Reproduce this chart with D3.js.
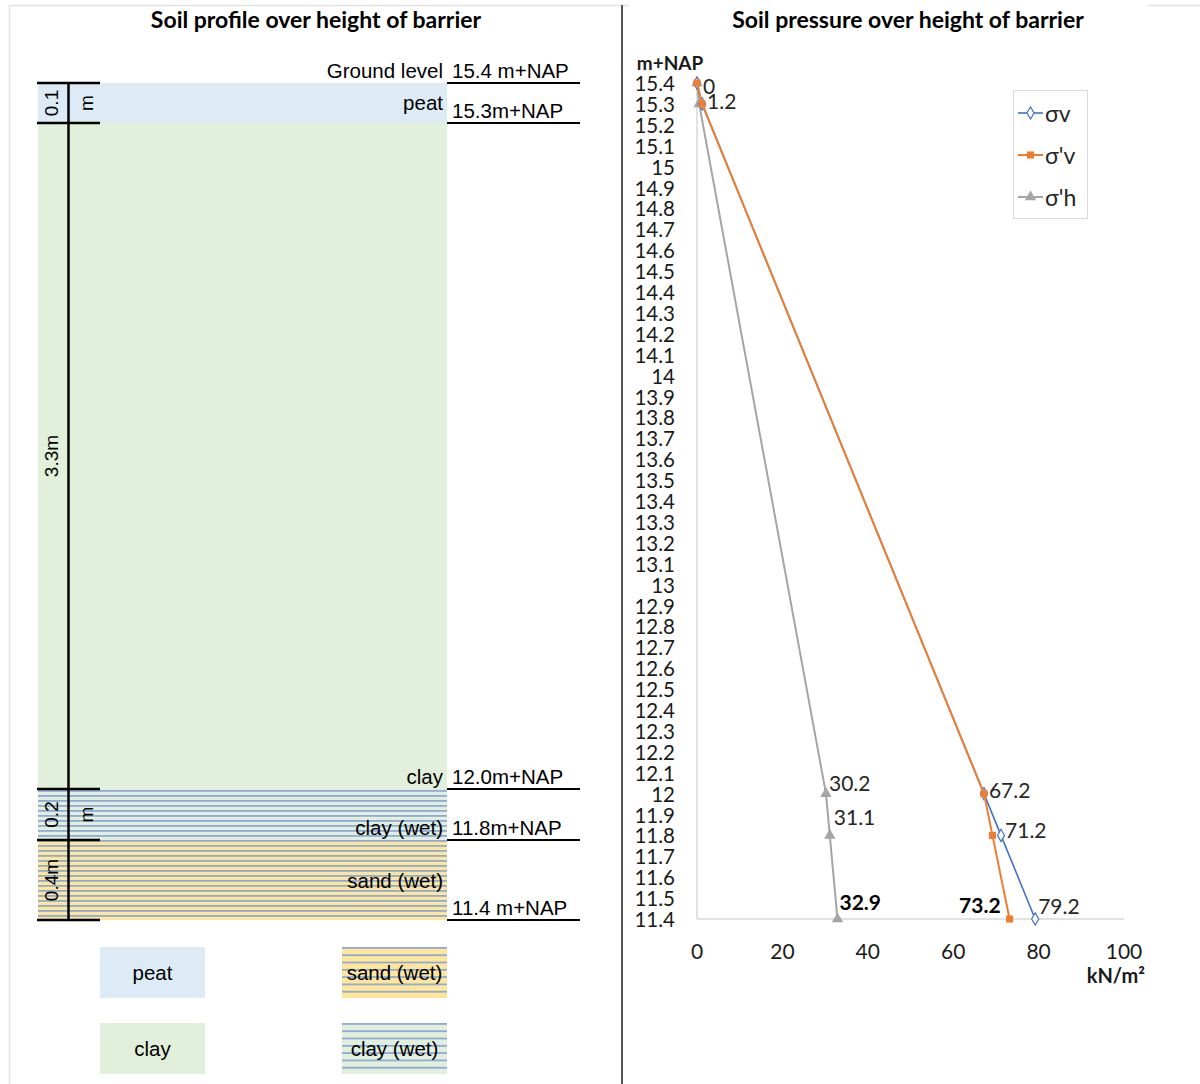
<!DOCTYPE html>
<html>
<head>
<meta charset="utf-8">
<script src="https://cdn.jsdelivr.net/npm/d3@7"></script>
<style>
  body { margin: 0; background: #fff; }
  svg { display: block; }
</style>
</head>
<body>
<svg id="chart" width="1200" height="1084"></svg>
<script>
// ---- Soil profile: layers of the barrier ----
const layerNames = ['peat', 'clay', 'clay (wet)', 'sand (wet)'];
const layerTops = [15.4, 15.3, 12.0, 11.8];
const layerBottoms = [15.3, 12.0, 11.8, 11.4];
const layerThickness = ['0.1 m', '3.3m', '0.2 m', '0.4m'];

// Boundary levels (m+NAP) and their annotations
const levelValues = [15.4, 15.3, 12.0, 11.8, 11.4];
const levelTexts = ['15.4 m+NAP', '15.3m+NAP', '12.0m+NAP', '11.8m+NAP', '11.4 m+NAP'];

// ---- Soil pressure over depth (kN/m²) ----
const depthLevels = [15.4, 15.3, 12.0, 11.8, 11.4];
const sigmaV = [0, 1.2, 67.2, 71.2, 79.2];
const sigmaVEff = [0, 1.2, 67.2, 69.2, 73.2];
const sigmaHEff = [0, 0.5, 30.2, 31.1, 32.9];
const seriesNames = ['σv', "σ'v", "σ'h"];

const yTickValues = [15.4, 15.3, 15.2, 15.1, 15.0, 14.9, 14.8, 14.7, 14.6, 14.5, 14.4,
  14.3, 14.2, 14.1, 14.0, 13.9, 13.8, 13.7, 13.6, 13.5, 13.4, 13.3, 13.2, 13.1, 13.0,
  12.9, 12.8, 12.7, 12.6, 12.5, 12.4, 12.3, 12.2, 12.1, 12.0, 11.9, 11.8, 11.7, 11.6,
  11.5, 11.4];
const xTickValues = [0, 20, 40, 60, 80, 100];

// ---- styling ----
const ARIAL = "'Liberation Sans', Arial, sans-serif";
const CALIBRI = "Lato, 'Open Sans', 'Noto Sans', sans-serif";
const layerFill = {
  'peat': '#DDEBF7',
  'clay': '#E2EFDA',
  'clay (wet)': 'url(#wetClay)',
  'sand (wet)': 'url(#wetSand)'
};
const legendFill = {
  'peat': '#DDEBF7',
  'clay': '#E2EFDA',
  'clay (wet)': 'url(#wetClayLegend)',
  'sand (wet)': 'url(#wetSandLegend)'
};
const seriesColors = ['#4472C4', '#ED7D31', '#A5A5A5'];
const stripeColor = '#8EA9DB';

const svg = d3.select('#chart');

// striped fills for the wet layers
const defs = svg.append('defs');
function stripes(id, bg, period) {
  const p = defs.append('pattern')
    .attr('id', id).attr('patternUnits', 'userSpaceOnUse')
    .attr('width', 10).attr('height', period);
  p.append('rect').attr('width', 10).attr('height', period).attr('fill', bg);
  p.append('rect').attr('y', 0).attr('width', 10).attr('height', 1.8).attr('fill', stripeColor);
}
stripes('wetClay', '#E2EFDA', 5);
stripes('wetSand', '#FFE699', 5);
stripes('wetClayLegend', '#E2EFDA', 7.3);
stripes('wetSandLegend', '#FFE699', 7.3);

// ---------------- Panel frames ----------------
svg.append('path')
  .attr('d', 'M9.5,1084 V5.5 H629')
  .attr('fill', 'none').attr('stroke', '#E3E3E3').attr('stroke-width', 1.5);
svg.append('line')
  .attr('x1', 622).attr('x2', 622).attr('y1', 5).attr('y2', 1084)
  .attr('stroke', '#555').attr('stroke-width', 2);
svg.append('line')
  .attr('x1', 1148).attr('x2', 1200).attr('y1', 5.5).attr('y2', 5.5)
  .attr('stroke', '#E3E3E3').attr('stroke-width', 1.5);

// ---------------- Left: soil profile ----------------
const left = svg.append('g');
left.append('text')
  .attr('x', 316).attr('y', 28).attr('text-anchor', 'middle')
  .attr('font-family', CALIBRI).attr('font-weight', 700).attr('font-size', 23)
  .attr('fill', '#000').text('Soil profile over height of barrier');

// schematic (not to scale) vertical placement of the boundaries
const yProfile = d3.scaleLinear()
  .domain(levelValues)
  .range([83, 123, 789, 840, 920]);

const layers = layerNames.map((name, i) => ({
  name, top: layerTops[i], bottom: layerBottoms[i], thick: layerThickness[i]
}));

left.selectAll('rect.layer').data(layers).join('rect')
  .attr('class', 'layer')
  .attr('x', 38).attr('width', 447 - 38)
  .attr('y', d => yProfile(d.top))
  .attr('height', d => yProfile(d.bottom) - yProfile(d.top))
  .attr('fill', d => layerFill[d.name]);

// boundary lines at the right with their level annotations
left.selectAll('line.level').data(levelValues).join('line')
  .attr('x1', 447).attr('x2', 580)
  .attr('y1', d => yProfile(d)).attr('y2', d => yProfile(d))
  .attr('stroke', '#000').attr('stroke-width', 2);
left.selectAll('text.level').data(levelValues).join('text')
  .attr('x', 452).attr('y', d => yProfile(d) - 5)
  .attr('font-family', ARIAL).attr('font-size', 20.5).attr('fill', '#000')
  .text((d, i) => levelTexts[i]);

// layer names, right-aligned against the level column
const nameOffset = { 'peat': -13, 'sand (wet)': -32 };
left.append('text')
  .attr('x', 443).attr('y', yProfile(levelValues[0]) - 5).attr('text-anchor', 'end')
  .attr('font-family', ARIAL).attr('font-size', 20.5).attr('fill', '#000')
  .text('Ground level');
left.selectAll('text.layer').data(layers).join('text')
  .attr('x', 443)
  .attr('y', d => yProfile(d.bottom) + (nameOffset[d.name] ?? -5))
  .attr('text-anchor', 'end')
  .attr('font-family', ARIAL).attr('font-size', 20.5).attr('fill', '#000')
  .text(d => d.name);

// thickness dimension line on the left
left.append('line')
  .attr('x1', 68.5).attr('x2', 68.5)
  .attr('y1', yProfile(levelValues[0])).attr('y2', yProfile(levelValues[levelValues.length - 1]) + 1)
  .attr('stroke', '#000').attr('stroke-width', 2.5);
left.selectAll('line.tick').data(levelValues).join('line')
  .attr('x1', 37).attr('x2', 100)
  .attr('y1', d => yProfile(d)).attr('y2', d => yProfile(d))
  .attr('stroke', '#000').attr('stroke-width', 2.5);

// rotated thickness labels; a unit after a space sits right of the dimension line
layers.forEach(d => {
  const cy = (yProfile(d.top) + yProfile(d.bottom)) / 2;
  const parts = d.thick.split(' ');
  const place = (txt, cx) => left.append('text')
    .attr('transform', `translate(${cx},${cy}) rotate(-90)`)
    .attr('text-anchor', 'middle').attr('dominant-baseline', 'central')
    .attr('font-family', ARIAL).attr('font-size', 19).attr('fill', '#000')
    .text(txt);
  place(parts[0], 51);
  if (parts[1]) place(parts[1], 86);
});

// legend of soil types
const legendItems = [
  { name: 'peat', x: 100, y: 947 },
  { name: 'clay', x: 100, y: 1023 },
  { name: 'sand (wet)', x: 342, y: 947 },
  { name: 'clay (wet)', x: 342, y: 1023 }
];
const lg = left.selectAll('g.soil-legend').data(legendItems).join('g')
  .attr('transform', d => `translate(${d.x},${d.y})`);
lg.append('rect').attr('width', 105).attr('height', 51)
  .attr('fill', d => legendFill[d.name]);
lg.append('text').attr('x', 52.5).attr('y', 25.5)
  .attr('text-anchor', 'middle').attr('dominant-baseline', 'central')
  .attr('font-family', ARIAL).attr('font-size', 20.5).attr('fill', '#000')
  .text(d => d.name);

// ---------------- Right: soil pressure ----------------
const right = svg.append('g');
right.append('text')
  .attr('x', 908).attr('y', 28).attr('text-anchor', 'middle')
  .attr('font-family', CALIBRI).attr('font-weight', 700).attr('font-size', 23)
  .attr('fill', '#000').text('Soil pressure over height of barrier');

const x = d3.scaleLinear().domain([0, 100]).range([697, 1124]);
const y = d3.scaleLinear().domain([11.4, 15.4]).range([919, 83]);

// axes lines
right.append('line')
  .attr('x1', x(0)).attr('x2', x(0)).attr('y1', y(15.4)).attr('y2', y(11.4))
  .attr('stroke', '#D9D9D9').attr('stroke-width', 1.5);
right.append('line')
  .attr('x1', x(0)).attr('x2', x(100)).attr('y1', y(11.4)).attr('y2', y(11.4))
  .attr('stroke', '#D9D9D9').attr('stroke-width', 1.5);

// y tick labels
right.append('g').selectAll('text').data(yTickValues).join('text')
  .attr('x', 675).attr('y', d => y(d))
  .attr('text-anchor', 'end').attr('dominant-baseline', 'central')
  .attr('font-family', CALIBRI).attr('font-size', 20.5).attr('fill', '#1a1a1a')
  .text(d => d3.format('~g')(d));

// x tick labels
right.append('g').selectAll('text').data(xTickValues).join('text')
  .attr('x', d => x(d)).attr('y', 950)
  .attr('text-anchor', 'middle').attr('dominant-baseline', 'central')
  .attr('font-family', CALIBRI).attr('font-size', 21).attr('fill', '#1a1a1a')
  .text(d => d);

// axis titles
right.append('text')
  .attr('x', 670).attr('y', 62).attr('text-anchor', 'middle').attr('dominant-baseline', 'central')
  .attr('font-family', CALIBRI).attr('font-weight', 700).attr('font-size', 19).attr('fill', '#1a1a1a')
  .text('m+NAP');
right.append('text')
  .attr('x', 1145).attr('y', 975).attr('text-anchor', 'end').attr('dominant-baseline', 'central')
  .attr('font-family', CALIBRI).attr('font-weight', 700).attr('font-size', 20).attr('fill', '#1a1a1a')
  .text('kN/m²');

// series
const seriesValues = [sigmaV, sigmaVEff, sigmaHEff];
const series = seriesValues.map((vals, s) => ({
  name: seriesNames[s],
  color: seriesColors[s],
  points: vals.map((v, i) => ({ v, level: depthLevels[i] }))
}));
const line = d3.line().x(p => x(p.v)).y(p => y(p.level));
const symbols = [d3.symbolDiamond, d3.symbolSquare, d3.symbolTriangle];
const symbolSize = [44, 50, 56];
const strokeW = [1.6, 2, 2];

// horizontal stress underneath, vertical stresses on top (effective last)
[2, 0, 1].forEach(s => {
  const sr = series[s];
  const g = right.append('g');
  g.append('path').attr('d', line(sr.points))
    .attr('fill', 'none').attr('stroke', sr.color).attr('stroke-width', strokeW[s]);
  g.selectAll('path.m').data(sr.points).join('path')
    .attr('transform', p => `translate(${x(p.v)},${y(p.level)})`)
    .attr('d', d3.symbol().type(symbols[s]).size(symbolSize[s]))
    .attr('fill', s === 0 ? '#fff' : sr.color)
    .attr('stroke', sr.color).attr('stroke-width', s === 0 ? 1.2 : 0);
});

// data labels: series index, point index, offsets and weight
const labelPlacement = [
  { s: 1, i: 0, dx: 6, dy: 2, anchor: 'start' },
  { s: 1, i: 1, dx: 5, dy: -3, anchor: 'start' },
  { s: 2, i: 2, dx: 3, dy: -11, anchor: 'start' },
  { s: 2, i: 3, dx: 4, dy: -19, anchor: 'start' },
  { s: 2, i: 4, dx: 2, dy: -18, anchor: 'start', bold: true },
  { s: 1, i: 2, dx: 5, dy: -4, anchor: 'start' },
  { s: 0, i: 3, dx: 4, dy: -6, anchor: 'start' },
  { s: 1, i: 4, dx: -9, dy: -15, anchor: 'end', bold: true },
  { s: 0, i: 4, dx: 3, dy: -14, anchor: 'start' }
];
right.append('g').selectAll('text').data(labelPlacement).join('text')
  .attr('x', d => x(seriesValues[d.s][d.i]) + d.dx)
  .attr('y', d => y(depthLevels[d.i]) + d.dy)
  .attr('text-anchor', d => d.anchor).attr('dominant-baseline', 'central')
  .attr('font-family', CALIBRI).attr('font-size', 21)
  .attr('font-weight', d => d.bold ? 700 : 400)
  .attr('fill', d => d.bold ? '#000' : '#262626')
  .text(d => d3.format('~g')(seriesValues[d.s][d.i]));

// series legend
const legend = right.append('g').attr('transform', 'translate(1013,90)');
legend.append('rect').attr('x', 0.5).attr('y', 0.5).attr('width', 74).attr('height', 128)
  .attr('fill', '#fff').attr('stroke', '#D9D9D9');
const le = legend.selectAll('g.e').data(series).join('g')
  .attr('transform', (d, i) => `translate(0,${23 + i * 42})`);
le.append('line').attr('x1', 5).attr('x2', 30)
  .attr('stroke', d => d.color).attr('stroke-width', (d, i) => strokeW[i]);
le.append('path')
  .attr('transform', 'translate(17.5,0)')
  .attr('d', (d, i) => d3.symbol().type(symbols[i]).size(symbolSize[i])())
  .attr('fill', (d, i) => i === 0 ? '#fff' : d.color)
  .attr('stroke', d => d.color).attr('stroke-width', (d, i) => i === 0 ? 1.2 : 0);
le.append('text').attr('x', 32).attr('dominant-baseline', 'central')
  .attr('font-family', CALIBRI).attr('font-size', 23).attr('fill', '#262626')
  .text(d => d.name);
</script>
</body>
</html>
